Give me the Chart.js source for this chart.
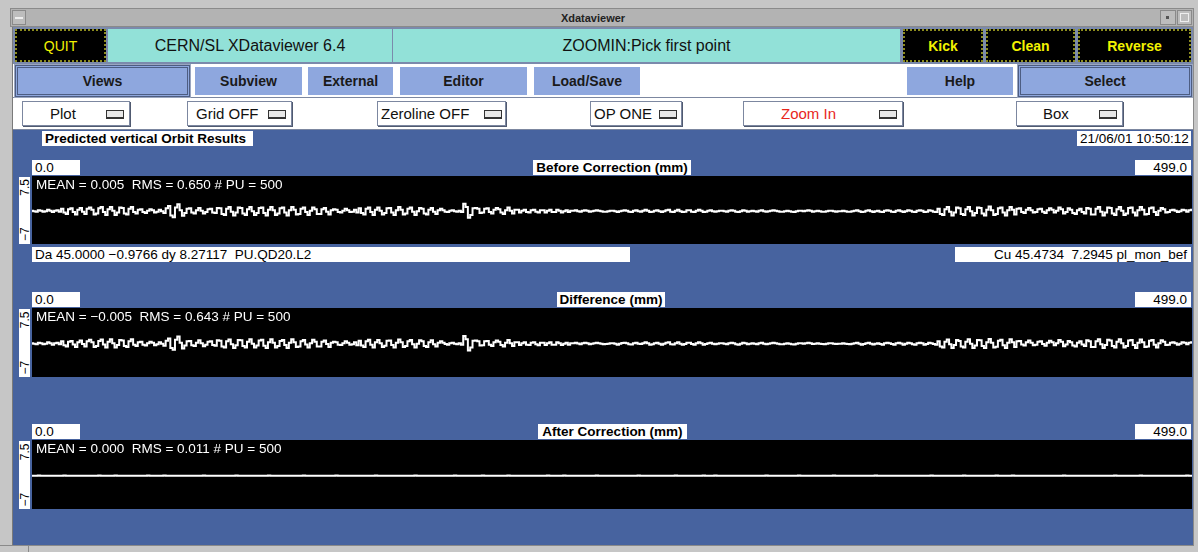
<!DOCTYPE html>
<html>
<head>
<meta charset="utf-8">
<title>Xdataviewer</title>
<script src="https://cdn.jsdelivr.net/npm/chart.js@4.4.1/dist/chart.umd.min.js"></script>
<style>
  html, body { margin: 0; padding: 0; background: #c6c6c6; }
  #win { position: relative; width: 1198px; height: 552px; overflow: hidden; background: #c6c6c6;
         font-family: "Liberation Sans", Arial, Helvetica, sans-serif; }
  .a { position: absolute; box-sizing: border-box; }
  .c { display: flex; align-items: center; justify-content: center; white-space: nowrap; }
  .blk { background: #000; color: #f2f200; font-size: 14px; font-weight: bold; border: 2px dotted #8c8c1e; }
  .cyan { background: #92e1d8; color: #111; font-size: 16px; }
  .bb { background: #8ea7de; color: #1a1a1a; font-size: 14px; font-weight: bold; }
  .raised { border: 3px double #4d5d82; outline: 1px solid #9aa6c0; }
  .menu { background: #fff; border: 1px solid #7c87a0; box-shadow: 1px 1px 0 #505a70; font-size: 15px; color: #111; }
  .ind { position: absolute; width: 16px; height: 6px; background: #e8e8e8; border: 1px solid #333;
         border-bottom-width: 2px; top: 50%; margin-top: -4px; }
  .wl { background: #fff; color: #000; font-size: 13.5px; white-space: pre; line-height: 15px; overflow: hidden; }
  .bold { font-weight: bold; }
  .plot { background: #000; }
  .stats { color: #fff; font-size: 13.5px; white-space: pre; pointer-events: none; }
  .ystrip { background: #fff; }
  .yrot { display: flex; justify-content: space-between; align-items: center; font-size: 12px; color: #000;
          transform: rotate(-90deg); line-height: 12px; padding: 0 3px; box-sizing: border-box; }
</style>
</head>
<body>
<div id="win">
  <!-- window frame and title bar -->
  <div class="a" style="left:10px;top:8px;width:1184px;height:19px;background:#b3b3b3;border:1px solid #8a8a8a;"></div>
  <div class="a" style="left:12px;top:10px;width:14px;height:15px;border:1px solid #8a8a8a;background:#bdbdbd;"></div>
  <div class="a" style="left:15px;top:17px;width:8px;height:2px;background:#eee;"></div>
  <div class="a c" style="left:26px;top:9px;width:1134px;height:17px;font-size:11px;font-weight:bold;color:#222;">Xdataviewer</div>
  <div class="a" style="left:1160px;top:10px;width:16px;height:15px;border:1px solid #8a8a8a;background:#bdbdbd;"></div>
  <div class="a" style="left:1166px;top:16px;width:3px;height:3px;background:#555;"></div>
  <div class="a" style="left:1177px;top:10px;width:15px;height:15px;border:1px solid #8a8a8a;background:#bdbdbd;"></div>
  <div class="a" style="left:1180px;top:13px;width:9px;height:9px;border:1px solid #eee;"></div>

  <!-- main client area -->
  <div class="a" style="left:12px;top:27px;width:1181px;height:519px;background:#47639f;border-left:1px solid #7a7a7a;"></div>

  <!-- first row: command buttons and status -->
  <div class="a" style="left:13px;top:27px;width:1180px;height:37px;background:#7b8aac;"></div>
  <div class="a c blk" style="left:15px;top:29px;width:91px;height:33px;font-weight:normal;">QUIT</div>
  <div class="a c cyan" style="left:108px;top:29px;width:284px;height:33px;">CERN/SL XDataviewer 6.4</div>
  <div class="a c cyan" style="left:393px;top:29px;width:507px;height:33px;">ZOOMIN:Pick first point</div>
  <div class="a c blk" style="left:903px;top:29px;width:80px;height:33px;">Kick</div>
  <div class="a c blk" style="left:986px;top:29px;width:89px;height:33px;">Clean</div>
  <div class="a c blk" style="left:1078px;top:29px;width:113px;height:33px;">Reverse</div>

  <!-- second row: menu buttons -->
  <div class="a" style="left:13px;top:64px;width:1180px;height:34px;background:#fff;border-bottom:1px solid #7c87a0;"></div>
  <div class="a c bb raised" style="left:15px;top:65px;width:175px;height:32px;">Views</div>
  <div class="a c bb" style="left:195px;top:67px;width:107px;height:28px;">Subview</div>
  <div class="a c bb" style="left:308px;top:67px;width:85px;height:28px;">External</div>
  <div class="a c bb" style="left:400px;top:67px;width:127px;height:28px;">Editor</div>
  <div class="a c bb" style="left:534px;top:67px;width:106px;height:28px;">Load/Save</div>
  <div class="a c bb" style="left:907px;top:67px;width:106px;height:28px;">Help</div>
  <div class="a c bb raised" style="left:1018px;top:65px;width:174px;height:32px;">Select</div>

  <!-- third row: option menus -->
  <div class="a" style="left:13px;top:98px;width:1180px;height:32px;background:#fff;border-bottom:1px solid #7c87a0;"></div>
  <div class="a menu" style="left:22px;top:101px;width:108px;height:25px;"><span class="a" style="left:27px;top:3px;">Plot</span><span class="ind" style="left:83px;"></span></div>
  <div class="a menu" style="left:187px;top:101px;width:105px;height:25px;"><span class="a" style="left:8px;top:3px;">Grid OFF</span><span class="ind" style="left:80px;"></span></div>
  <div class="a menu" style="left:377px;top:101px;width:129px;height:25px;"><span class="a" style="left:3px;top:3px;">Zeroline OFF</span><span class="ind" style="left:106px;"></span></div>
  <div class="a menu" style="left:590px;top:101px;width:92px;height:25px;"><span class="a" style="left:3px;top:3px;">OP ONE</span><span class="ind" style="left:68px;"></span></div>
  <div class="a menu" style="left:743px;top:101px;width:160px;height:25px;"><span class="a" style="left:37px;top:3px;color:#e8261c;">Zoom In</span><span class="ind" style="left:135px;"></span></div>
  <div class="a menu" style="left:1016px;top:101px;width:107px;height:25px;"><span class="a" style="left:26px;top:3px;">Box</span><span class="ind" style="left:82px;"></span></div>

  <!-- header labels -->
  <div class="a wl bold" style="left:42px;top:131px;width:211px;height:15px;padding-left:3px;">Predicted vertical Orbit Results</div>
  <div class="a wl" id="stamp" style="left:1077px;top:131px;width:114px;height:15px;padding-left:3px;"></div>

  <!-- panels are filled in by the script below -->
  <div id="panels"></div>

  <!-- bottom frame -->
  <div class="a" style="left:0;top:545px;width:1198px;height:7px;background:#c6c6c6;border-top:1px solid #8a8a8a;"></div>
  <div class="a" style="left:28px;top:546px;width:1px;height:6px;background:#8a8a8a;"></div>
  <div class="a" style="left:1193px;top:27px;width:5px;height:519px;background:#c6c6c6;border-left:1px solid #8a8a8a;"></div>
</div>

<script>
// Beam position monitor readings (mm), one per pick-up, PU 0..499
const beforeMm = [
  // PU 0-12
  0.1, 0.0, -0.1, 0.2, 0.1, -0.1, 0.0, 0.3, 0.1, -0.2, 0.1, 0.2, -0.1,
  // PU 13-24
  0.5, -0.3, -0.6, 0.4, 0.6, -0.2, -0.7, 0.3, 0.7, -0.1, -0.6, 0.5,
  // PU 25-44
  0.8, 0.3, -0.7, -0.5, 0.6, 0.9, -0.2, -0.8, 0.4, 0.9,
  0.1, -0.8, -0.3, 0.8, 0.7, -0.5, -0.7, 0.5, 0.9, -0.2,
  // PU 45-57
  -0.5, 0.3, 0.4, -0.2, -0.4, 0.1, 0.4, 0.2, -0.3, -0.1, 0.3, 0.0, -0.4,
  // PU 58-66
  0.6, 1.1, -0.9, -1.3, 0.8, 1.5, 0.2, -1.0, -0.4,
  // PU 67-79
  0.5, 0.6, -0.3, -0.5, 0.2, 0.7, 0.1, -0.5, -0.2, 0.4, 0.5, -0.3, -0.4,
  // PU 80-129
  0.7, 0.6, -0.6, -0.8, 0.5, 0.9, -0.1, -0.9, -0.3, 0.8,
  0.7, -0.5, -0.8, 0.4, 0.9, 0.0, -0.8, -0.4, 0.7, 0.8,
  -0.4, -0.9, 0.3, 0.9, 0.2, -0.8, -0.5, 0.6, 0.8, -0.3,
  -0.9, 0.2, 0.9, 0.3, -0.7, -0.6, 0.5, 0.8, -0.2, -0.8,
  0.1, 0.8, 0.4, -0.6, -0.6, 0.4, 0.7, -0.1, -0.7, 0.2,
  // PU 130-140
  0.4, 0.3, -0.2, -0.3, 0.1, 0.5, 0.2, -0.2, -0.1, 0.3, -0.3,
  // PU 141-176
  0.6, -0.4, -0.7, 0.5, 0.8, -0.2, -0.8, 0.3, 0.8, 0.1,
  -0.7, -0.4, 0.6, 0.7, -0.3, -0.8, 0.2, 0.9, 0.3, -0.7,
  -0.5, 0.5, 0.8, -0.1, -0.8, 0.0, 0.7, 0.5, -0.5, -0.7,
  0.3, 0.7, -0.1, -0.6, 0.2, 0.5,
  // PU 177-185
  0.2, -0.1, -0.2, 0.1, 0.2, 0.0, -0.1, 0.1, -0.2,
  // PU 186-189
  1.6, 0.9, -1.4, -0.8,
  // PU 190-208
  0.6, 0.7, 0.5, -0.4, -0.3, 0.5, 0.6, -0.2, -0.5, 0.3,
  0.7, 0.4, -0.3, -0.6, 0.2, 0.8, 0.1, -0.5, 0.3,
  // PU 209-232
  0.3, -0.3, 0.1, 0.3, -0.2, -0.3, 0.2, 0.3, -0.1, -0.3,
  0.2, 0.2, -0.3, 0.1, 0.3, -0.2, -0.2, 0.3, 0.1, -0.3,
  0.0, 0.2, -0.2, 0.1,
  // PU 233-389
  0.1, 0.2, 0.0, -0.1, 0.1, 0.2, 0.1, -0.1, 0.0, 0.1,
  0.2, 0.1, 0.0, -0.1, -0.1, 0.0, 0.1, 0.1, 0.0, -0.2,
  0.0, 0.1, 0.2, 0.1, -0.1, -0.2, 0.1, 0.2, 0.0, -0.1,
  0.1, 0.3, 0.1, -0.2, -0.1, 0.1, 0.2, 0.0, -0.2, 0.0,
  0.2, 0.3, -0.1, -0.2, 0.1, 0.3, 0.0, -0.2, -0.1, 0.2,
  0.2, -0.1, -0.2, 0.1, 0.3, 0.1, -0.2, -0.1, 0.1, 0.2,
  0.0, -0.1, 0.0, 0.1, 0.1, 0.0, -0.1, 0.1, 0.2, 0.1,
  -0.1, -0.2, 0.0, 0.2, 0.1, -0.1, 0.0, 0.1, 0.0, -0.1,
  0.1, 0.2, 0.0, -0.1, 0.0, 0.1, 0.2, 0.1, 0.0, -0.1,
  -0.1, 0.0, 0.1, 0.0, -0.1, -0.2, 0.0, 0.1, 0.1, 0.0,
  0.1, 0.2, 0.1, -0.1, 0.0, 0.1, 0.0, -0.1, -0.1, 0.0,
  0.1, 0.1, 0.0, -0.1, 0.0, 0.0, 0.1, 0.0, -0.1, -0.1,
  0.0, 0.1, 0.2, 0.0, -0.2, -0.1, 0.1, 0.2, 0.0, -0.2,
  0.0, 0.1, -0.1, -0.2, 0.1, 0.2, 0.1, -0.1, -0.2, 0.1,
  0.2, 0.0, -0.2, 0.0, 0.2, 0.1, -0.1, -0.2, 0.1, 0.2,
  0.1, -0.2, -0.1, 0.2, 0.1, -0.1, -0.2,
  // PU 390-423
  0.5, -0.6, -0.8, 0.4, 0.9, -0.1, -0.9, -0.3, 0.8, 0.6,
  -0.6, -0.8, 0.4, 0.9, 0.0, -0.9, -0.4, 0.8, 0.7, -0.5,
  -0.9, 0.3, 1.0, 0.2, -0.8, -0.6, 0.6, 0.8, -0.3, -0.9,
  0.2, 0.9, 0.3, -0.7,
  // PU 424-441
  0.5, 0.6, -0.2, -0.4, 0.3, 0.7, 0.2, -0.3, -0.2, 0.4,
  0.5, -0.1, -0.4, 0.2, 0.6, 0.3, -0.3, 0.1,
  // PU 442-453
  0.8, 0.4, -0.5, -0.2, 0.6, 0.3, -0.4, -0.6, 0.2, 0.5, -0.2, -0.5,
  // PU 454-487
  0.7, 0.5, -0.7, -0.7, 0.5, 0.9, -0.1, -0.9, -0.3, 0.8,
  0.7, -0.5, -0.8, 0.4, 0.9, 0.1, -0.8, -0.5, 0.7, 0.8,
  -0.3, -0.9, 0.2, 0.9, 0.3, -0.7, -0.6, 0.6, 0.8, -0.2,
  -0.8, 0.1, 0.7, 0.4,
  // PU 488-499
  -0.3, -0.2, 0.2, 0.3, 0.1, -0.2, 0.0, 0.3, 0.2, -0.1, 0.2, 0.3
];

const afterMm = [
  0.01, -0.01, 0.00, 0.02, -0.01, 0.01, 0.00, -0.02, 0.01, 0.01,
  -0.01, 0.00, 0.01, -0.01, 0.02, 0.00, -0.01, 0.01, -0.02, 0.00,
  0.01, 0.01, -0.01, 0.00, 0.01, -0.02, 0.01, 0.00, -0.01, 0.02,
  0.00, -0.01, 0.01, 0.01, -0.01, 0.00, 0.02, -0.01, 0.00, 0.01,
  -0.02, 0.01, 0.00, -0.01, 0.01, 0.01, -0.01, 0.00, 0.01, -0.01,
  0.02, 0.00, -0.01, 0.01, 0.00, -0.01, 0.01, 0.02, -0.01, 0.00,
  0.01, -0.01, -0.01, 0.01, 0.00, 0.01, -0.02, 0.00, 0.01, 0.01,
  -0.01, 0.01, 0.00, -0.01, 0.02, 0.01, 0.00, -0.01, 0.00, 0.01,
  0.00, -0.02, 0.01, 0.01, -0.01, 0.00, 0.01, -0.01, 0.02, 0.00,
  -0.01, 0.01, 0.00, 0.01, -0.01, -0.01, 0.01, 0.00, 0.01, -0.02,
  0.01, 0.00, 0.02, -0.01, 0.00, 0.01, -0.01, 0.01, 0.00, -0.01,
  0.01, 0.01, -0.02, 0.00, 0.01, -0.01, 0.00, 0.02, -0.01, 0.01,
  0.00, -0.01, 0.01, 0.00, -0.01, 0.01, 0.01, -0.01, 0.00, 0.01,
  -0.01, 0.02, 0.00, -0.01, 0.01, 0.00, -0.02, 0.01, 0.01, 0.00,
  0.01, -0.01, 0.00, 0.01, 0.01, -0.01, 0.00, -0.01, 0.02, 0.01,
  -0.01, 0.00, 0.01, -0.02, 0.01, 0.00, 0.01, -0.01, 0.00, 0.01,
  0.00, 0.01, -0.01, 0.01, 0.00, 0.02, -0.01, 0.00, -0.01, 0.01,
  0.01, -0.02, 0.00, 0.01, -0.01, 0.01, 0.00, 0.01, -0.01, 0.00,
  -0.01, 0.01, 0.02, 0.00, -0.01, 0.00, 0.01, -0.01, 0.01, -0.01,
  0.00, 0.01, -0.01, 0.00, 0.02, -0.01, 0.01, 0.00, -0.02, 0.01,
  0.01, 0.00, -0.01, 0.01, -0.01, 0.02, 0.00, -0.01, 0.01, 0.00,
  -0.02, 0.01, 0.01, 0.00, -0.01, 0.01, -0.01, 0.00, 0.01, 0.01,
  0.00, -0.01, 0.02, -0.01, 0.00, 0.01, 0.00, -0.01, -0.01, 0.02,
  0.01, 0.00, -0.01, 0.01, 0.01, -0.02, 0.00, 0.01, 0.00, -0.01,
  0.01, -0.01, 0.00, 0.02, 0.00, -0.01, 0.01, -0.01, 0.01, 0.00,
  -0.01, 0.00, 0.01, 0.01, -0.02, 0.01, 0.00, 0.01, -0.01, 0.01,
  0.00, 0.02, -0.01, 0.00, 0.01, -0.01, 0.01, 0.00, -0.01, -0.01,
  0.01, 0.01, 0.00, -0.02, 0.01, 0.00, -0.01, 0.02, 0.00, -0.01,
  0.01, -0.01, 0.01, 0.00, -0.01, 0.01, 0.01, -0.01, 0.00, 0.02,
  -0.01, 0.00, -0.01, 0.01, 0.02, -0.01, 0.00, 0.01, -0.01, 0.00,
  0.01, 0.01, -0.01, 0.00, 0.00, 0.01, -0.02, 0.01, 0.01, -0.01,
  0.00, 0.01, 0.01, -0.01, 0.00, -0.01, 0.02, 0.00, -0.01, 0.01,
  -0.01, 0.01, 0.00, 0.01, -0.01, 0.00, 0.01, 0.01, -0.02, 0.00,
  0.02, -0.01, 0.00, 0.01, 0.00, -0.01, -0.01, 0.01, 0.01, 0.00,
  -0.01, 0.00, 0.01, -0.01, 0.01, 0.02, -0.01, 0.00, 0.00, 0.01,
  0.01, -0.02, 0.01, 0.00, -0.01, 0.01, 0.00, 0.01, -0.01, 0.01,
  0.00, 0.01, -0.01, 0.02, 0.00, -0.01, 0.01, -0.01, 0.00, 0.01,
  -0.01, 0.01, 0.01, 0.00, -0.02, 0.00, 0.01, 0.01, -0.01, 0.00,
  0.01, 0.00, -0.01, 0.01, 0.01, -0.01, 0.00, 0.02, -0.01, 0.00,
  0.00, -0.01, 0.01, -0.01, 0.00, 0.01, 0.01, -0.02, 0.01, 0.01,
  -0.01, 0.02, 0.00, -0.01, 0.01, 0.00, -0.01, 0.01, 0.00, -0.01,
  0.01, 0.00, 0.01, -0.01, -0.01, 0.02, 0.00, -0.01, 0.01, 0.00,
  0.00, -0.01, 0.02, 0.00, -0.01, 0.01, -0.01, 0.00, 0.01, 0.01,
  -0.02, 0.01, 0.00, 0.01, 0.00, -0.01, 0.01, 0.01, -0.01, 0.00,
  0.01, -0.01, 0.00, 0.00, 0.02, -0.01, 0.01, -0.01, 0.00, 0.01,
  0.00, 0.01, -0.01, 0.01, -0.02, 0.01, 0.00, 0.01, 0.01, -0.01,
  0.01, 0.00, 0.00, -0.01, 0.01, -0.01, 0.02, 0.00, -0.01, 0.01,
  -0.01, 0.01, 0.01, 0.00, -0.01, 0.00, -0.01, 0.02, 0.01, 0.00,
  0.00, -0.02, 0.01, 0.01, 0.00, 0.01, -0.01, 0.00, -0.01, 0.01,
  0.01, 0.00, -0.01, 0.01, 0.00, -0.01, 0.01, 0.02, 0.00, -0.01
];

// Difference between the measured and the corrected orbit
const differenceMm = beforeMm.map((v, i) => +(v - (afterMm[i] || 0)).toFixed(3));

// Axis limits shown beside each plot
const xLimits = [0, 499];
const yLimits = [-7, 7.5];

// Panel titles and summary lines
const panelTitles = ["Before Correction (mm)", "Difference (mm)", "After Correction (mm)"];
const panelStats = [
  "MEAN = 0.005  RMS = 0.650 # PU = 500",
  "MEAN = \u22120.005  RMS = 0.643 # PU = 500",
  "MEAN = 0.000  RMS = 0.011 # PU = 500"
];
const cursorLeft = "Da 45.0000 \u22120.9766 dy 8.27117  PU.QD20.L2";
const cursorRight = "Cu 45.4734  7.2945 pl_mon_bef";
const timeStamp = "21/06/01 10:50:12";

const puLabels = beforeMm.map((_, i) => i);

// layout of the three plot panels
const panelTops = [176, 308, 440];
const panelHeights = [68, 69, 69];
const titleBoxes = [[533, 158], [557, 108], [538, 149]];
const plotLeft = 32, plotWidth = 1160;

function fmtY(v) { return String(v).replace('-', '\u2212'); }

document.getElementById('stamp').textContent = timeStamp;

const host = document.getElementById('panels');
const seriesList = [beforeMm, differenceMm, afterMm];

seriesList.forEach((series, k) => {
  const top = panelTops[k], h = panelHeights[k];
  const html = [];
  // range labels and title
  html.push(`<div class="a wl" style="left:${plotLeft}px;top:${top - 16}px;width:48px;height:15px;padding-left:3px;">${xLimits[0].toFixed(1)}</div>`);
  html.push(`<div class="a wl bold" style="left:${titleBoxes[k][0]}px;top:${top - 16}px;width:${titleBoxes[k][1]}px;height:15px;text-align:center;">${panelTitles[k]}</div>`);
  html.push(`<div class="a wl" style="left:1135px;top:${top - 16}px;width:56px;height:15px;text-align:right;padding-right:4px;">${xLimits[1].toFixed(1)}</div>`);
  // vertical scale strip
  html.push(`<div class="a ystrip" style="left:19px;top:${top + 1}px;width:11px;height:${h - 1}px;"></div>`);
  html.push(`<div class="a yrot" style="left:${24.5 - h / 2}px;top:${top + h / 2 - 6}px;width:${h}px;height:12px;"><span>${fmtY(yLimits[0])}</span><span>${fmtY(yLimits[1])}</span></div>`);
  // plot area
  html.push(`<div class="a plot" style="left:${plotLeft}px;top:${top}px;width:${plotWidth}px;height:${h}px;"><canvas id="cv${k}"></canvas></div>`);
  html.push(`<div class="a stats" style="left:${plotLeft + 4}px;top:${top + 1}px;">${panelStats[k]}</div>`);
  if (k === 0) {
    html.push(`<div class="a wl" style="left:${plotLeft}px;top:${top + h + 3}px;width:598px;height:15px;padding-left:3px;">${cursorLeft}</div>`);
    html.push(`<div class="a wl" style="left:955px;top:${top + h + 3}px;width:236px;height:15px;text-align:right;padding-right:4px;">${cursorRight}</div>`);
  }
  host.insertAdjacentHTML('beforeend', html.join(''));
});

seriesList.forEach((series, k) => {
  const canvas = document.getElementById('cv' + k);
  new Chart(canvas, {
    type: 'line',
    data: {
      labels: puLabels,
      datasets: [{
        data: series,
        borderColor: '#ffffff',
        borderWidth: 2,
        pointRadius: 0,
        stepped: 'middle',
        fill: false
      }]
    },
    options: {
      responsive: true,
      maintainAspectRatio: false,
      animation: false,
      events: [],
      layout: { padding: 0 },
      plugins: { legend: { display: false }, tooltip: { enabled: false }, title: { display: false } },
      scales: {
        x: { type: 'category', offset: false, display: false },
        y: { min: yLimits[0], max: yLimits[1], display: false }
      }
    }
  });
});
</script>
</body>
</html>
